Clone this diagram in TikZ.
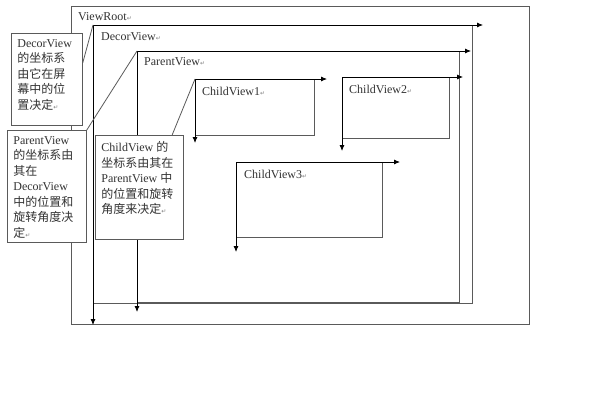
\documentclass[tikz,border=0pt]{standalone}
\usepackage{fontspec}
\setmainfont{Liberation Serif}
\newfontfamily\cjk{Noto Sans CJK SC}
\newfontfamily\symf{DejaVu Sans}
\usetikzlibrary{arrows.meta}
\newcommand\zh[1]{{\cjk #1}}
\newcommand\pmk{{\symf\fontsize{6}{6}\selectfont\textcolor{gray}{↵}}}
\definecolor{frame}{HTML}{5A5A5A}
\definecolor{txt}{HTML}{333333}
\begin{document}
\begin{tikzpicture}[x=1pt,y=-1pt,
  viewbox/.style={draw=frame, line width=0.9pt, inner sep=0pt, anchor=north west},
  axis/.style={draw=black, line width=0.8pt, -{Latex[length=6pt,width=5pt]}},
  vlabel/.style={anchor=west, inner sep=0pt, font=\fontsize{12}{14}\selectfont, text=txt},
  note/.style={draw=frame, fill=white, line width=0.8pt, anchor=north west, inner xsep=6pt, inner ysep=6pt, font=\fontsize{12}{15.5}\selectfont, text=txt},
  pointer/.style={draw=frame, line width=0.8pt}]
\useasboundingbox[fill=white] (0,0) rectangle (604,404);

% views
\node[viewbox, minimum width=458, minimum height=318] (root) at (71,6) {};
\node[viewbox, minimum width=379, minimum height=278] (decor) at (93,25) {};
\node[viewbox, minimum width=322, minimum height=251] (parent) at (137,51) {};
\node[viewbox, minimum width=119, minimum height=56] (child1) at (195,79) {};
\node[viewbox, minimum width=107, minimum height=61] (child2) at (342,77) {};
\node[viewbox, minimum width=146, minimum height=75] (child3) at (236,162) {};

% view labels
\node[vlabel] (lroot) at (78,17) {ViewRoot\pmk};
\node[vlabel] (ldecor) at (101,37) {DecorView\pmk};
\node[vlabel] (lparent) at (144,62) {ParentView\pmk};
\node[vlabel] (lchild1) at (202,91) {ChildView1\pmk};
\node[vlabel] (lchild2) at (349,89) {ChildView2\pmk};
\node[vlabel] (lchild3) at (244,174) {ChildView3\pmk};

% axis end points
\coordinate (decorX) at (483,25);
\coordinate (decorY) at (93,325);
\coordinate (parentX) at (471,51);
\coordinate (parentY) at (137,312);
\coordinate (child1X) at (327,79);
\coordinate (child1Y) at (195,143);
\coordinate (child2X) at (463,77);
\coordinate (child2Y) at (342,151);
\coordinate (child3X) at (400,162);
\coordinate (child3Y) at (236,252);

% axes
\draw[axis] (decor.north west) -- (decorX);
\draw[axis] (decor.north west) -- (decorY);
\draw[axis] (parent.north west) -- (parentX);
\draw[axis] (parent.north west) -- (parentY);
\draw[axis] (child1.north west) -- (child1X);
\draw[axis] (child1.north west) -- (child1Y);
\draw[axis] (child2.north west) -- (child2X);
\draw[axis] (child2.north west) -- (child2Y);
\draw[axis] (child3.north west) -- (child3X);
\draw[axis] (child3.north west) -- (child3Y);

% notes
\node[note] (n1) at (11,33) {\parbox[c][80pt][t]{59pt}{\raggedright
DecorView\\ \zh{的坐标系}\\ \zh{由它在屏}\\ \zh{幕中的位}\\ \zh{置决定}\pmk}};
\node[note] (n2) at (7,130) {\parbox[c][100pt][t]{67pt}{\raggedright
ParentView\\ \zh{的坐标系由}\\ \zh{其在}\\ DecorView\\ \zh{中的位置和}\\ \zh{旋转角度决}\\ \zh{定}\pmk}};
\node[note] (n3) at (95,135) {\parbox[c][92pt][t]{76pt}{\raggedright
ChildView \zh{的}\\ \zh{坐标系由其在}\\ ParentView \zh{中}\\ \zh{的位置和旋转}\\ \zh{角度来决定}\pmk}};

% pointers
\draw[pointer] (n1.25) -- (decor.north west);
\draw[pointer] (n2.north east) -- (parent.north west);
\draw[pointer] (n3.58) -- (child1.north west);
\end{tikzpicture}
\end{document}
